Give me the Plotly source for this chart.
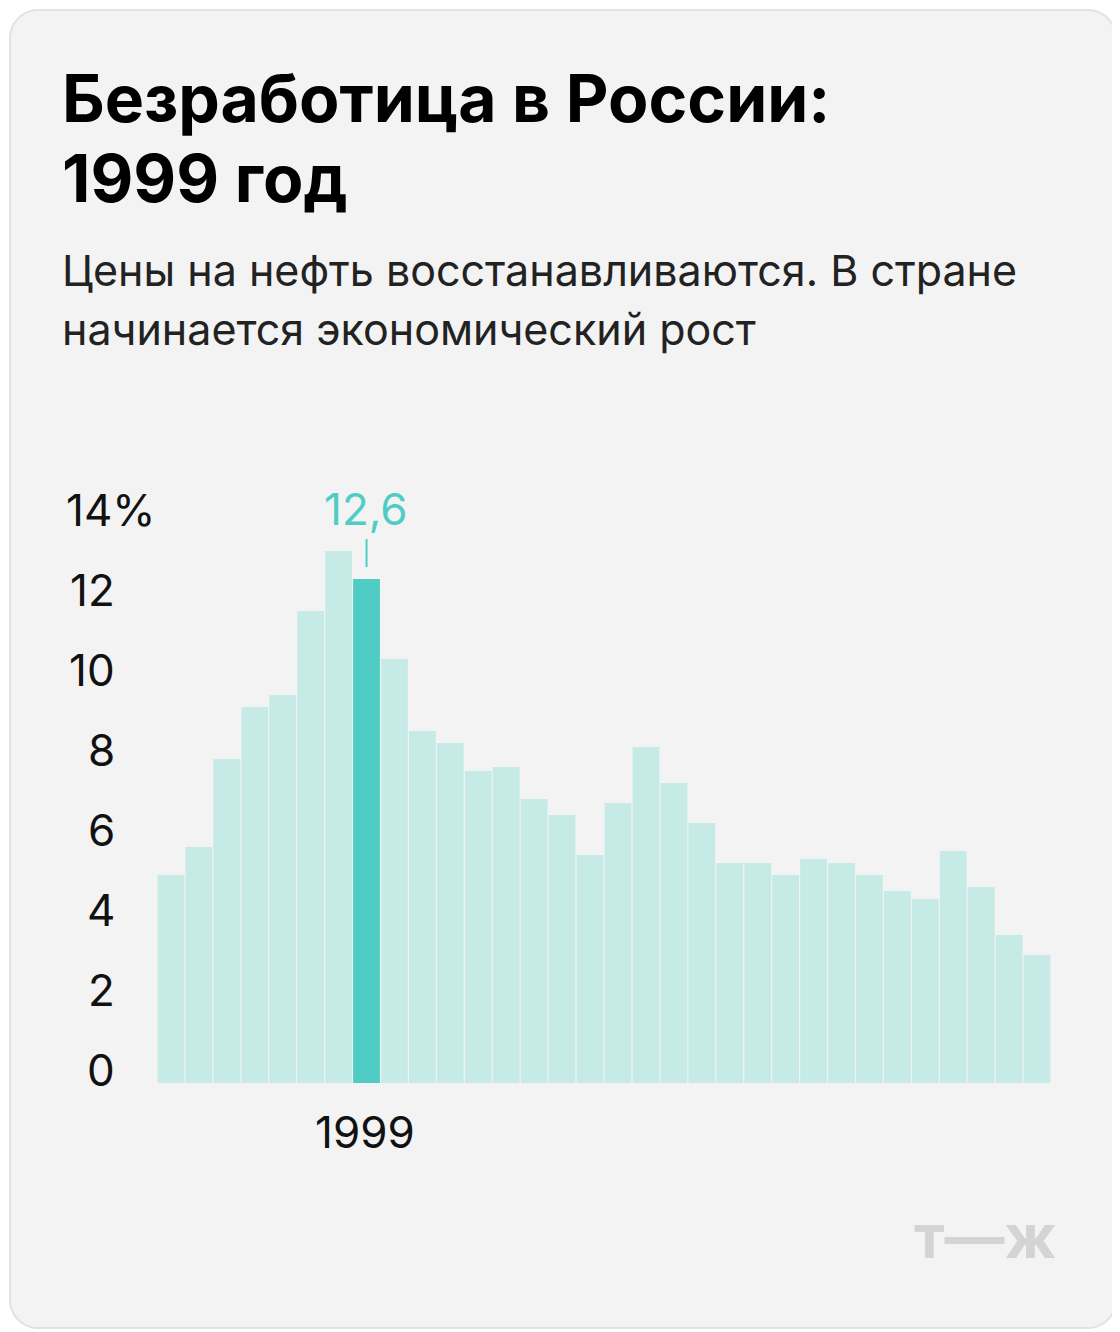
import plotly.graph_objects as go
import math

years = list(range(1992, 2024))
values = [5.2, 5.9, 8.1, 9.4, 9.7, 11.8, 13.3, 12.6, 10.6, 8.8, 8.5, 7.8, 7.9, 7.1, 6.7, 5.7,
          7.0, 8.4, 7.5, 6.5, 5.5, 5.5, 5.2, 5.6, 5.5, 5.2, 4.8, 4.6, 5.8, 4.9, 3.7, 3.2]
highlight_year = 1999
tick_vals = [0, 2, 4, 6, 8, 10, 12, 14]
tick_texts = ["0", "2", "4", "6", "8", "10", "12", "14%"]

colors = ["#4fcdc4" if y == highlight_year else "#c6ebe7" for y in years]
W, H = 1120, 1332
O = 8  # page offset
L, R, T, B = 157 - O, 69 + O, 523 - O, 249 + O
fig = go.Figure(go.Bar(x=years, y=values, marker=dict(color=colors, line=dict(width=0)),
                       hoverinfo="skip"))
F = "Inter"
fig.update_layout(
    width=W, height=H, paper_bgcolor="white", plot_bgcolor="rgba(0,0,0,0)",
    margin=dict(l=L, r=R, t=T, b=B), showlegend=False, bargap=0.04,
    xaxis=dict(range=[1991.5, 2023.5], showticklabels=False, showgrid=False, zeroline=False),
    yaxis=dict(range=[0, 14], showticklabels=False, showgrid=False, zeroline=False),
    font=dict(family=F),
)

def px(x, y):
    x -= O; y -= O
    return ((x - L) / (W - L - R), (H - B - y) / (H - T - B))

r = 28
pts = []
def corner(cx, cy, a0):
    for k in range(0, 11):
        a = math.radians(a0 + 9 * k)
        pts.append(px(cx + r * math.cos(a), cy + r * math.sin(a)))
c0, c1x, c1y = 10, W - 4, H - 4
corner(c0 + r, c0 + r, 180); corner(c1x - r, c0 + r, 270)
corner(c1x - r, c1y - r, 0); corner(c0 + r, c1y - r, 90)
p = "M " + " L ".join(f"{a:.5f},{b:.5f}" for a, b in pts) + " Z"
fig.add_shape(type="path", xref="paper", yref="paper", path=p, layer="below",
              fillcolor="#f3f3f3", line=dict(color="#e2e2e2", width=2))

def ann(text, x, y, size, color="#000", bold=False, xanchor="left", yanchor="middle"):
    ax, ay = px(x, y)
    fig.add_annotation(x=ax, y=ay, xref="paper", yref="paper", text=(f"<b>{text}</b>" if bold else text),
                       showarrow=False, xanchor=xanchor, yanchor=yanchor,
                       font=dict(family=F, size=size, color=color))

ann("Безработица в России:", 60, 98, 66, bold=True)
ann("1999 год", 60, 178, 66, bold=True)
ann("Цены на нефть восстанавливаются. В стране", 60, 270, 43, color="#222")
ann("начинается экономический рост", 60, 329, 43, color="#222")
for v, t in zip(tick_vals, tick_texts):
    if t.endswith("%"):
        ann(t, 64, 1083 - v * 40 - 13, 44, color="#111")
    else:
        ann(t, 117, 1083 - v * 40 - 13, 44, color="#111", xanchor="right")
ann("1999", 365, 1132, 44, color="#111", xanchor="center")
ann("12,6", 366, 509, 44, color="#4fcdc4", xanchor="center")
fig.add_shape(type="line", x0=highlight_year, x1=highlight_year, y0=12.9, y1=13.6,
              line=dict(color="#4fcdc4", width=2))
ann("т—ж", 1058, 1236, 60, color="#d4d4d4", bold=True, xanchor="right")
fig.write_html("out.html")
